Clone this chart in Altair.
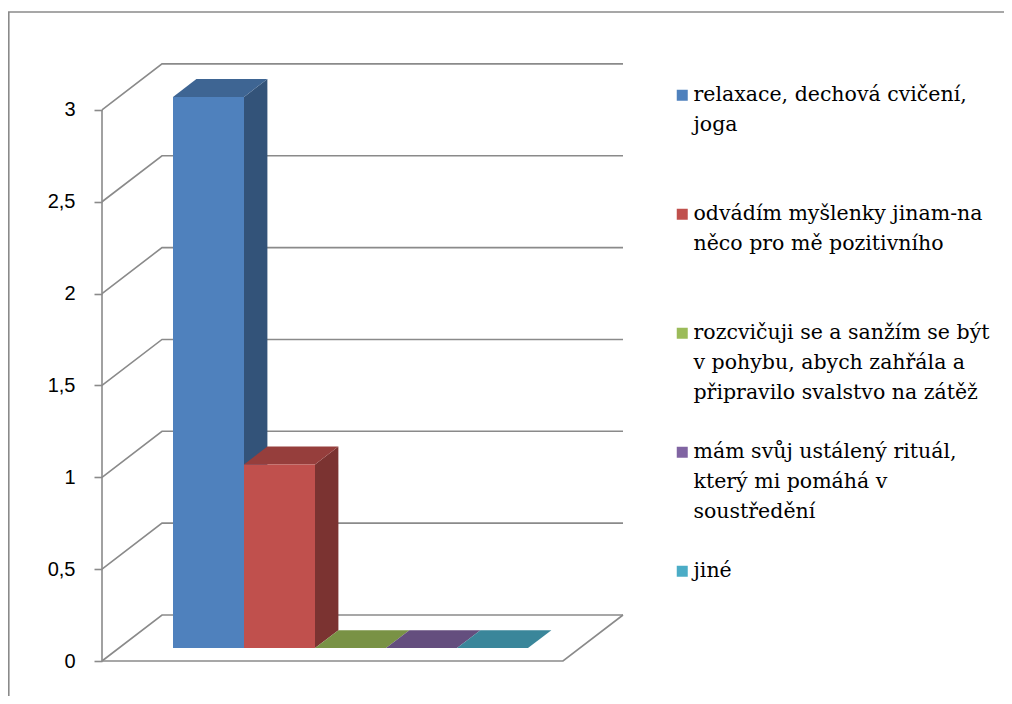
import altair as alt
import pandas as pd

# ---------------- data ----------------
categories = [
    "relaxace, dechová cvičení,\njoga",
    "odvádím myšlenky jinam-na\nněco pro mě pozitivního",
    "rozcvičuji se a sanžím se být\nv pohybu, abych zahřála a\npřipravilo svalstvo na zátěž",
    "mám svůj ustálený rituál,\nkterý mi pomáhá v\nsoustředění",
    "jiné",
]
values = [3, 1, 0, 0, 0]
y_ticks = [0, 0.5, 1, 1.5, 2, 2.5, 3]

# ---------------- style ----------------
front_colors = ["#4F81BD", "#C0504D", "#9BBB59", "#8064A2", "#4BACC6"]


def shade(h, k):
    r, g, b = int(h[1:3], 16), int(h[3:5], 16), int(h[5:7], 16)
    return "#%02x%02x%02x" % (round(r * k), round(g * k), round(b * k))


side_colors = [shade(c, 0.64) for c in front_colors]
top_colors = [shade(c, 0.78) for c in front_colors]
GRID = "#8a8a8a"
SERIF = "DejaVu Serif"

W, H = 996, 688
PX_U = 71.0      # px per bar slot
PX_V = 183.7     # px per value unit
AXIS_PX = 94     # canvas x of the front axis
ZERO_PY = 653    # canvas y of value 0 on the front plane
DX = 60 / PX_U   # full depth offset (x)
DV = 46 / PX_V   # full depth offset (y, value units)
F1, F2 = 0.28, 0.67   # bar front/back depth fractions
GAP = 1.0 - F1 * DX   # gap before first bar in front plane
FLOOR_U = 461 / PX_U
BACK_U = FLOOR_U + DX

xs = alt.Scale(domain=[-AXIS_PX / PX_U, (W - AXIS_PX) / PX_U], nice=False, zero=False)
ys = alt.Scale(domain=[-(H - ZERO_PY) / PX_V, ZERO_PY / PX_V], nice=False, zero=False)

y_axis = alt.Axis(
    values=y_ticks,
    format="~g",
    labelExpr="replace(datum.label, '.', ',')",
    domain=False,
    grid=False,
    ticks=True,
    tickSize=8,
    tickColor=GRID,
    tickWidth=1.6,
    labelFont="Liberation Sans",
    labelFontSize=20,
    labelColor="#000000",
    labelPadding=19,
    labelOverlap=False,
    offset=-AXIS_PX,
    title=None,
)
x_axis = None

# ---------------- tables ----------------
front_rows, side_rows, top_rows = [], [], []
for i, (c, v) in enumerate(zip(categories, values)):
    x0 = GAP + i + F1 * DX
    y0 = F1 * DV
    front_rows.append({"cat": c, "x": x0, "x2": x0 + 1, "y": y0, "y2": y0 + v})
    sx = (F2 - F1) * DX
    sy = (F2 - F1) * DV
    side_rows.append({"cat": c, "x": x0 + 1, "y": y0 + v, "y2": y0})
    side_rows.append({"cat": c, "x": x0 + 1 + sx, "y": y0 + sy + v, "y2": y0 + sy})
    top_rows.append({"cat": c, "y": y0 + v, "x": x0, "x2": x0 + 1})
    top_rows.append({"cat": c, "y": y0 + sy + v, "x": x0 + sx, "x2": x0 + 1 + sx})

front_df = pd.DataFrame(front_rows)
side_df = pd.DataFrame(side_rows)
top_df = pd.DataFrame(top_rows)

grid_rows = []
for t in y_ticks:
    grid_rows += [
        {"g": str(t), "o": 0, "x": 0.0, "y": t},
        {"g": str(t), "o": 1, "x": DX, "y": t + DV},
        {"g": str(t), "o": 2, "x": BACK_U, "y": t + DV},
    ]
grid_rows += [
    {"g": "axis", "o": 0, "x": 0.0, "y": 0.0},
    {"g": "axis", "o": 1, "x": 0.0, "y": max(y_ticks)},
    {"g": "floor", "o": 0, "x": 0.0, "y": 0.0},
    {"g": "floor", "o": 1, "x": FLOOR_U, "y": 0.0},
    {"g": "floor", "o": 2, "x": BACK_U, "y": DV},
]
grid_df = pd.DataFrame(grid_rows)

# ---------------- layers ----------------
grid = alt.Chart(grid_df).mark_line(color=GRID, strokeWidth=1.6).encode(
    x=alt.X("x:Q", scale=xs, axis=x_axis),
    y=alt.Y("y:Q", scale=ys, axis=y_axis),
    detail="g:N",
    order=alt.Order("o:Q"),
)

sides = alt.Chart(side_df).mark_area(orient="vertical", opacity=1).encode(
    x=alt.X("x:Q", scale=xs, axis=x_axis),
    y=alt.Y("y:Q", scale=ys, axis=y_axis),
    y2="y2:Q",
    detail="cat:N",
    color=alt.Color("cat:N", scale=alt.Scale(domain=categories, range=side_colors), legend=None),
)

tops = alt.Chart(top_df).mark_area(orient="horizontal", opacity=1).encode(
    y=alt.Y("y:Q", scale=ys, axis=y_axis),
    x=alt.X("x:Q", scale=xs, axis=x_axis),
    x2="x2:Q",
    detail="cat:N",
    color=alt.Color("cat:N", scale=alt.Scale(domain=categories, range=top_colors), legend=None),
)

fronts = alt.Chart(front_df).mark_rect(opacity=1).encode(
    x=alt.X("x:Q", scale=xs, axis=x_axis),
    x2="x2:Q",
    y=alt.Y("y:Q", scale=ys, axis=y_axis),
    y2="y2:Q",
    color=alt.Color(
        "cat:N",
        scale=alt.Scale(domain=categories, range=front_colors),
        legend=alt.Legend(
            title=None,
            orient="none",
            legendX=664,
            legendY=77,
            symbolType="square",
            symbolSize=121,
            symbolStrokeWidth=0,
            symbolOpacity=1,
            labelFont=SERIF,
            labelFontSize=20.5,
            labelColor="#000000",
            labelLimit=400,
            labelOffset=1,
            rowPadding=38,
            gridAlign="all",
            padding=0,
            labelExpr="split(datum.label, '\\n')",
        ),
    ),
)

one = pd.DataFrame({"a": [0]})
border_top = alt.Chart(one).mark_rule(color=GRID, strokeWidth=1.6).encode(
    x=alt.value(0), x2=alt.value(W), y=alt.value(4)
)
border_left = alt.Chart(one).mark_rule(color=GRID, strokeWidth=1.6).encode(
    x=alt.value(0.8), y=alt.value(4), y2=alt.value(H)
)

chart = (
    alt.layer(grid, sides, tops, fronts, border_top, border_left)
    .resolve_scale(color="independent")
    .properties(
        width=W,
        height=H,
        autosize=alt.AutoSizeParams(type="none"),
        padding=0,
        background="white",
    )
    .configure(style={"guide-label": {"lineHeight": 30}})
    .configure_legend(labelFont=SERIF)
    .configure_view(stroke=None)
)

chart.save("out.html", embed_options={"renderer": "svg", "actions": False})
